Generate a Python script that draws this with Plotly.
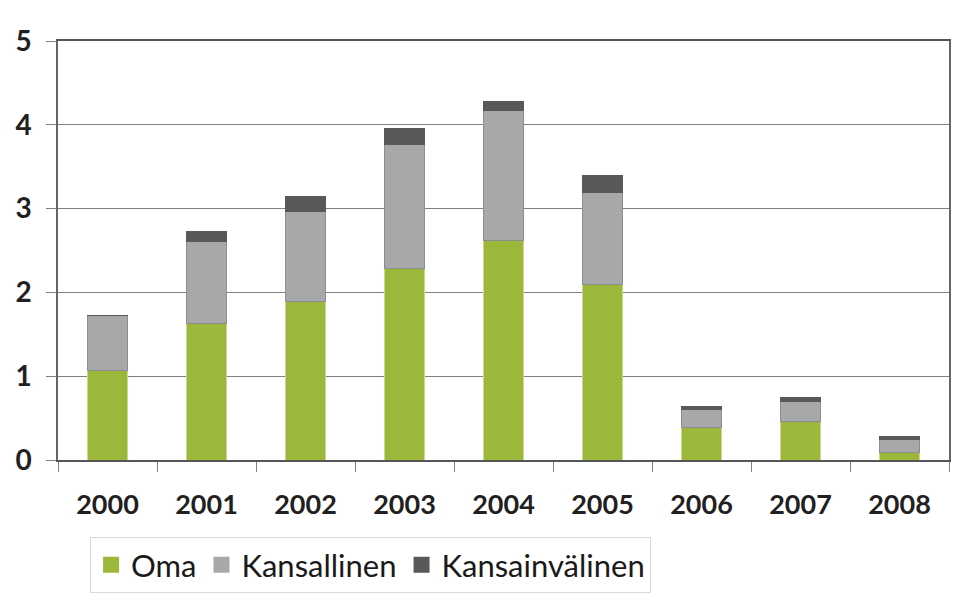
import plotly.graph_objects as go

years = ["2000", "2001", "2002", "2003", "2004", "2005", "2006", "2007", "2008"]
oma = [1.07, 1.63, 1.89, 2.28, 2.62, 2.10, 0.39, 0.46, 0.09]
kansallinen = [0.66, 0.98, 1.07, 1.49, 1.55, 1.09, 0.21, 0.24, 0.15]
kansainvalinen = [0.0, 0.12, 0.19, 0.19, 0.11, 0.21, 0.04, 0.04, 0.04]

series = [
    ("Oma", oma, "#9cb83a", "#c9d98f"),
    ("Kansallinen", kansallinen, "#a7a8aa", "#8c8d8f"),
    ("Kansainvälinen", kansainvalinen, "#58595b", "#58595b"),
]

fig = go.Figure()
for name, vals, color, line in series:
    fig.add_trace(go.Bar(
        x=years, y=vals, name=name, width=0.41, legendgroup=name, showlegend=False,
        marker=dict(color=color, line=dict(color=line, width=1)),
    ))
# legend entries with larger square swatches
for name, vals, color, line in series:
    fig.add_trace(go.Scatter(
        x=[None], y=[None], name=name, legendgroup=name, mode="markers",
        marker=dict(symbol="square", size=16, color=color, line=dict(width=0)),
    ))

# page body has an 8px default margin, so the figure is sized to fit inside it
fig.update_layout(
    barmode="stack",
    width=948, height=590,
    margin=dict(l=50, r=7, t=33, b=138, autoexpand=False),
    plot_bgcolor="white", paper_bgcolor="white",
    font=dict(family="Lato", color="#1a1a1a"),
    showlegend=True,
    legend=dict(
        orientation="h", x=0.036, y=-0.184, xanchor="left", yanchor="top",
        bordercolor="#d9d9d9", borderwidth=1,
        font=dict(family="Lato", size=31, color="#1a1a1a"),
        traceorder="normal", itemwidth=30, itemsizing="trace",
    ),
)
fig.update_xaxes(
    type="category", showgrid=False, automargin=False,
    showline=True, linecolor="#555555", linewidth=1.5, mirror=True,
    ticks="outside", tickson="boundaries", ticklen=10, tickcolor="#808080", tickwidth=1,
    tickfont=dict(family="Lato", size=27, color="#231f20", weight="bold"),
    ticklabelstandoff=20,
)
fig.update_yaxes(
    range=[0, 5], dtick=1, tick0=0, automargin=False,
    showgrid=True, gridcolor="#808080", gridwidth=1.2,
    showline=True, linecolor="#666666", linewidth=1.5, mirror=True,
    ticks="outside", ticklen=10, tickcolor="#808080", tickwidth=1,
    tickfont=dict(family="Lato", size=28, color="#231f20", weight="bold"),
    ticklabelstandoff=9, zeroline=False,
)

fig.write_html("out.html")
